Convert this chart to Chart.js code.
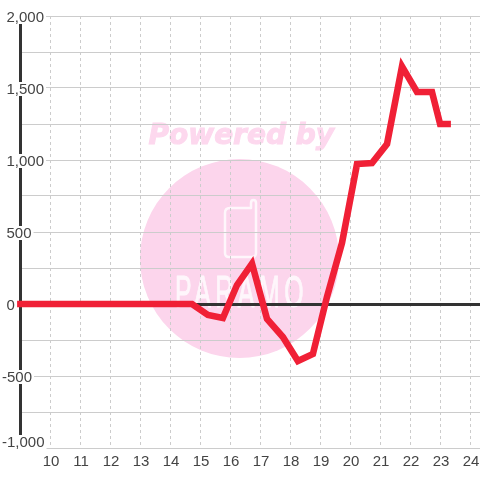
<!DOCTYPE html>
<html>
<head>
<meta charset="utf-8">
<style>
  html, body { margin: 0; padding: 0; background: #fff; }
  canvas { display: block; }
</style>
<script src="https://cdn.jsdelivr.net/npm/chart.js@4"></script>
</head>
<body>
<canvas id="c" width="480" height="480"></canvas>
<script>
  // hour of day / value
  var hours = [8.87, 14.7, 15.23, 15.73, 16.2, 16.7, 17.2, 17.73, 18.23, 18.73, 19.2, 19.7, 20.2, 20.7, 21.2, 21.7, 22.2, 22.7, 22.97, 23.33];
  var values = [0, 0, -76, -97, 132, 280, -104, -229, -396, -347, 50, 424, 972, 979, 1111, 1650, 1472, 1472, 1250, 1250];

  var xTicks = [10, 11, 12, 13, 14, 15, 16, 17, 18, 19, 20, 21, 22, 23, 24];
  var yTicks = [2000, 1750, 1500, 1250, 1000, 750, 500, 250, 0, -250, -500, -750, -1000];
  var yLabelValues = [2000, 1500, 1000, 500, 0, -500, -1000];
  var yLabels = ["2,000", "1,500", "1,000", "500", "0", "-500", "-1,000"];

  var FONT = '15px "Liberation Sans", Arial, sans-serif';
  var TEXT = "#444";

  //水印，画在网格下面
  var watermark = {
    id: "watermark",
    beforeDraw: function(chart) {
      var ctx = chart.ctx;
      ctx.save();
      ctx.fillStyle = "#fcd5ec";
      ctx.beginPath();
      ctx.arc(239.5, 258.5, 99.5, 0, Math.PI * 2);
      ctx.fill();

      ctx.fillStyle = "#fdd8ee";
      ctx.strokeStyle = "#fdd8ee";
      ctx.lineWidth = 1;
      ctx.font = 'italic bold 28px "DejaVu Sans"';
      ctx.textBaseline = "alphabetic";
      ctx.textAlign = "left";
      ctx.fillText("Powered by", 148.5, 144, 187);
      ctx.strokeText("Powered by", 148.5, 144, 187);

      // phone
      ctx.strokeStyle = "#fef6fb";
      ctx.lineWidth = 2.5;
      ctx.lineJoin = "round";
      ctx.beginPath();
      ctx.moveTo(230, 208);
      ctx.lineTo(251, 208);
      ctx.lineTo(251, 203);
      ctx.quadraticCurveTo(251, 200, 253.5, 200);
      ctx.quadraticCurveTo(256, 200, 256, 203);
      ctx.lineTo(256, 253);
      ctx.quadraticCurveTo(256, 257, 252, 257);
      ctx.lineTo(229, 257);
      ctx.quadraticCurveTo(225, 257, 225, 253);
      ctx.lineTo(225, 213);
      ctx.quadraticCurveTo(225, 208, 230, 208);
      ctx.stroke();

      ctx.fillStyle = "#fef6fb";
      ctx.strokeStyle = "#fef6fb";
      ctx.lineWidth = 1;
      ctx.font = '44px "Liberation Sans Narrow", "Liberation Sans"';
      ctx.letterSpacing = "8px";
      ctx.fillText("PARAMO", 175, 307, 133);
      ctx.strokeText("PARAMO", 175, 307, 133);
      ctx.restore();
    }
  };

  //y轴文字带白底，盖住轴线和网格
  var yLabelPlugin = {
    id: "yLabelPlugin",
    beforeDatasetsDraw: function(chart) {
      var ctx = chart.ctx;
      var scale = chart.scales.y;
      ctx.save();
      ctx.font = FONT;
      ctx.textAlign = "left";
      ctx.textBaseline = "middle";
      for(var i = 0; i < yLabels.length; i++) {
        var y = scale.getPixelForValue(yLabelValues[i]);
        if(i == yLabels.length - 1) y -= 7;
        var label = yLabels[i];
        var w = ctx.measureText(label).width;
        var left = label.charAt(0) == "-" ? 2 : 6.5;
        ctx.fillStyle = "#fff";
        ctx.fillRect(left - 1, y - 6, w + 3, 14);
        ctx.fillStyle = TEXT;
        ctx.fillText(label, left, y + 1.5);
      }
      ctx.restore();
    }
  };

  var points = [];
  for(var i = 0; i < hours.length; i++) {
    points.push({ x: hours[i], y: values[i] });
  }

  new Chart(document.getElementById("c"), {
    type: "line",
    data: {
      datasets: [{
        data: points,
        borderColor: "#f02036",
        borderWidth: 6.6,
        borderJoinStyle: "miter",
        borderCapStyle: "butt",
        tension: 0,
        pointRadius: 0,
        clip: false
      }]
    },
    plugins: [watermark, yLabelPlugin],
    options: {
      responsive: false,
      animation: false,
      layout: { padding: { left: 20, top: 16, right: 0, bottom: 0 } },
      plugins: { legend: { display: false }, tooltip: { enabled: false } },
      scales: {
        x: {
          type: "linear",
          min: 8.967,
          max: 24.3,
          afterBuildTicks: function(s) {
            s.ticks = xTicks.map(function(v) { return { value: v }; });
          },
          afterFit: function(s) {
            s.height = 32;
            s.paddingLeft = 0;
            s.paddingRight = 0;
          },
          grid: { color: "#ccc", lineWidth: 1, drawTicks: false },
          border: { display: false, dash: [3, 3] },
          ticks: {
            autoSkip: false,
            maxRotation: 0,
            padding: 5,
            color: TEXT,
            font: { family: '"Liberation Sans", Arial, sans-serif', size: 15 }
          }
        },
        y: {
          min: -1000,
          max: 2000,
          afterBuildTicks: function(s) {
            s.ticks = yTicks.map(function(v) { return { value: v }; });
          },
          afterFit: function(s) { s.width = 0; },
          grid: {
            drawTicks: false,
            color: function(c) { return c.tick && c.tick.value === 0 ? "#333" : "#ccc"; },
            lineWidth: function(c) { return c.tick && c.tick.value === 0 ? 3 : 1; }
          },
          border: { display: true, color: "#333", width: 3 },
          ticks: { display: false }
        }
      }
    }
  });
</script>
</body>
</html>
